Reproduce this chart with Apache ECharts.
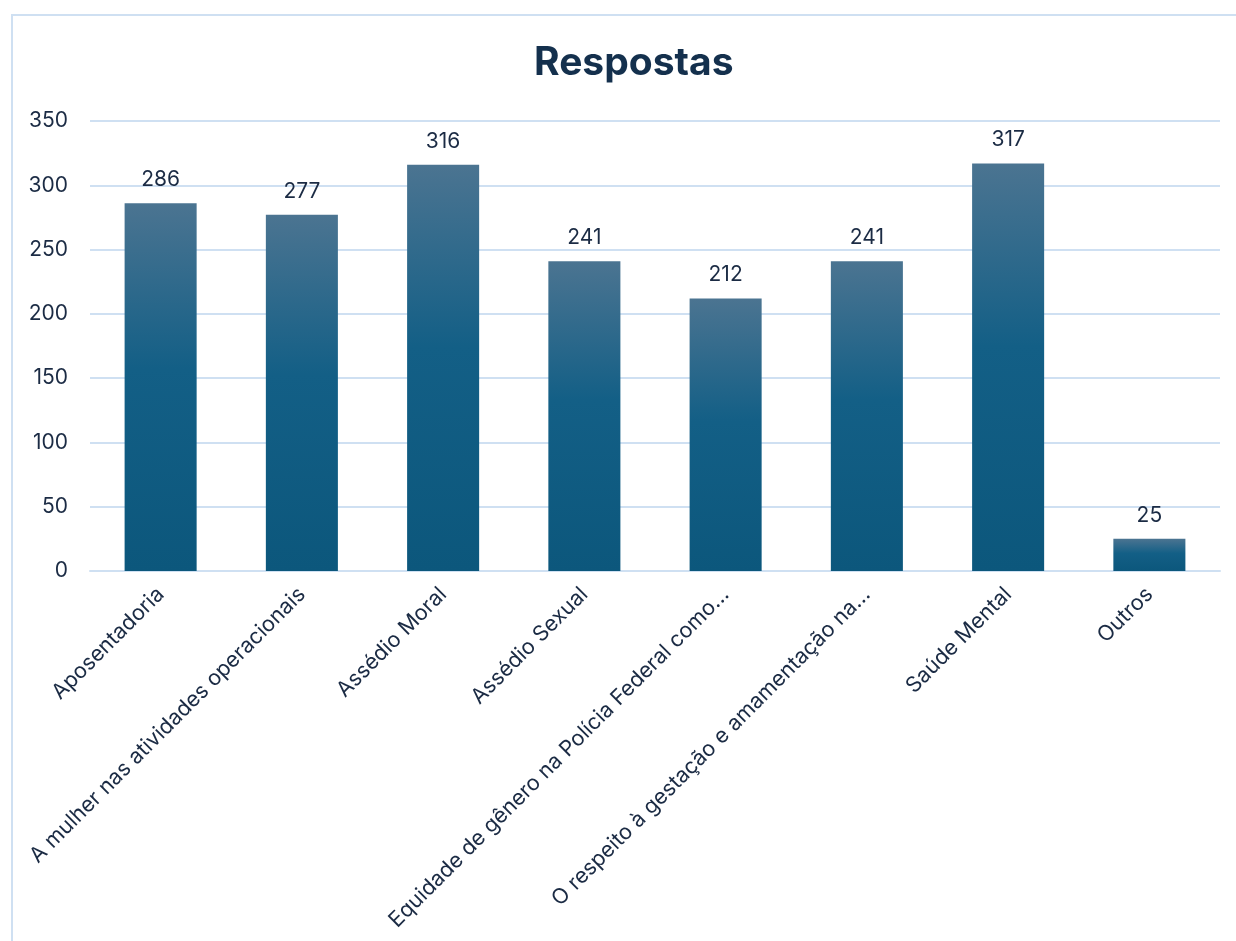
<!DOCTYPE html>
<html>
<head>
<meta charset="utf-8">
<script src="https://cdn.jsdelivr.net/npm/echarts@6/dist/echarts.min.js"></script>
<style>
html,body{margin:0;padding:0;background:#fff;}
#chart{width:1236px;height:941px;}
</style>
</head>
<body>
<div id="chart"></div>
<script>
const categories = [
  "Aposentadoria",
  "A mulher nas atividades operacionais",
  "Assédio Moral",
  "Assédio Sexual",
  "Equidade de gênero na Polícia Federal como…",
  "O respeito à gestação e amamentação na…",
  "Saúde Mental",
  "Outros"
];
const values = [286, 277, 316, 241, 212, 241, 317, 25];
const yTicks = { min: 0, max: 350, interval: 50 };

const chart = echarts.init(document.getElementById('chart'));
const font = 'Inter, "Open Sans", sans-serif';
const barGradient = new echarts.graphic.LinearGradient(0, 0, 0, 1, [
  { offset: 0, color: '#4b7491' },
  { offset: 0.45, color: '#135f86' },
  { offset: 1, color: '#0c577c' }
]);
chart.setOption({
  animation: false,
  backgroundColor: '#ffffff',
  graphic: [{
    type: 'rect',
    shape: { x: 12, y: 15, width: 1300, height: 1000 },
    style: { fill: 'none', stroke: '#cfe0f2', lineWidth: 2 },
    silent: true
  }],
  title: {
    text: 'Respostas',
    left: 529,
    top: 39,
    textStyle: { fontFamily: font, fontSize: 39, fontWeight: 'bold', color: '#14304d' }
  },
  grid: { left: 90, right: 16, top: 121, bottom: 370, containLabel: false },
  xAxis: {
    type: 'category',
    data: categories,
    axisLine: { show: true, lineStyle: { color: '#cfe0f2', width: 2 } },
    axisTick: { show: false },
    axisLabel: {
      rotate: 45,
      interval: 0,
      margin: 20,
      fontFamily: font,
      fontSize: 21.5,
      color: '#1b2b44'
    }
  },
  yAxis: {
    type: 'value',
    min: yTicks.min,
    max: yTicks.max,
    interval: yTicks.interval,
    axisLine: { show: false },
    axisTick: { show: false },
    splitLine: { lineStyle: { color: '#cfe0f2', width: 2 } },
    axisLabel: { fontFamily: font, fontSize: 21, color: '#1b2b44', margin: 22 }
  },
  series: [{
    type: 'bar',
    data: values,
    barWidth: '51%',
    itemStyle: { color: barGradient },
    label: {
      show: true,
      position: 'top',
      distance: 13,
      fontFamily: font,
      fontSize: 21,
      color: '#1b2b44'
    }
  }]
});
</script>
</body>
</html>
